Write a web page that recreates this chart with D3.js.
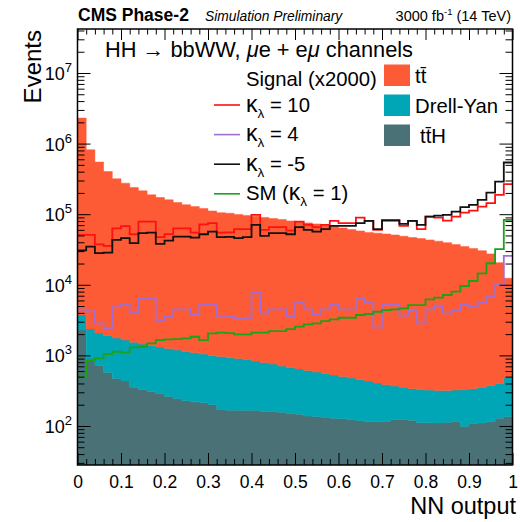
<!DOCTYPE html>
<html>
<head>
<meta charset="utf-8">
<script src="https://cdn.jsdelivr.net/npm/d3@7"></script>
<style>
  html, body { margin: 0; padding: 0; background: #fff; }
  svg { display: block; font-family: "Liberation Sans", Arial, Helvetica, sans-serif; }
</style>
</head>
<body>
<svg id="chart" width="520" height="522"></svg>
<script>
// NN output distribution, 50 bins on [0, 1]
const nBins = 50;
const binWidth = 1 / nBins;
const binLow = d3.range(nBins).map(i => i * binWidth);

// Stacked backgrounds (events per bin)
const ttbar = [2296000, 814600, 544900, 400100, 315200, 273400, 236500, 212600, 186600, 170700,
  158800, 144800, 134900, 126900, 119000, 110000, 104000, 102100, 98400, 95200,
  92300, 89300, 86300, 83600, 79600, 77200, 74700, 72200, 68700, 66600,
  63400, 60300, 57400, 54800, 53300, 52100, 50400, 48300, 46300, 44800,
  42900, 41100, 39200, 36800, 34400, 32200, 30100, 27000, 20200, 11900];

const drellYan = [1445, 1503, 1354, 1340, 1291, 1217, 1175, 1118, 1069, 1023,
  986, 944, 904, 869, 830, 799, 788, 763, 734, 707,
  663, 629, 593, 548, 520, 493, 471, 444, 419, 397,
  374, 354, 335, 318, 290, 268, 244, 230, 217, 216,
  211, 207, 204, 207, 228, 230, 245, 258, 269, 353];

const ttH = [2285, 857, 716, 570, 469, 433, 355, 327, 308, 289,
  262, 245, 228, 220, 213, 201, 173, 167, 167, 165,
  167, 162, 160, 157, 152, 147, 138, 136, 133, 129,
  127, 123, 119, 115, 115, 117, 123, 125, 121, 111,
  111, 110, 113, 115, 99, 108, 110, 115, 129, 136];

// Signal hypotheses, scaled x2000
const kl10 = [50800, 50800, 37300, 35500, 62900, 67600, 52000, 78500, 78500, 47200,
  52200, 62900, 62900, 54800, 71600, 74500, 54800, 55200, 61300, 61300,
  97700, 59900, 65400, 65400, 58500, 78500, 70500, 65400, 70500, 80300,
  74500, 74500, 89500, 80300, 59900, 83000, 83000, 68200, 80300, 61300,
  92500, 89500, 81100, 92500, 105400, 112500, 128200, 143200, 187800, 266500];

const kl4 = [4440, 4210, 2840, 2420, 4840, 5340, 4070, 6440, 6440, 3170,
  3570, 4490, 4490, 3730, 5340, 5340, 3490, 3530, 3350, 3350,
  7730, 3940, 4490, 4490, 3530, 5570, 4490, 3820, 4490, 5340,
  4490, 4490, 6440, 5660, 2490, 5170, 5170, 3650, 4390, 2840,
  4490, 5050, 3940, 4300, 5340, 4890, 5570, 6780, 9930, 25600];

const klm5 = [30700, 34700, 28000, 28500, 43200, 45700, 38800, 53800, 54800, 37900,
  42200, 48100, 48100, 46600, 52000, 56600, 47200, 47600, 45700, 47200,
  70500, 49200, 53800, 53800, 52000, 65400, 59900, 56600, 61300, 68200,
  68200, 68200, 74500, 80300, 61300, 81100, 81100, 72800, 80300, 70500,
  92500, 95500, 97700, 108900, 125600, 135500, 159600, 202400, 289800, 539500];

const smSignal = [497, 858, 906, 1043, 1125, 1104, 1298, 1324, 1480, 1648,
  1686, 1703, 1742, 1836, 1648, 2051, 2094, 2070, 1986, 1986,
  2094, 2094, 2210, 2210, 2360, 2547, 2754, 2844, 3064, 3243,
  3414, 3414, 3733, 3855, 4150, 4385, 4487, 4645, 5167, 5167,
  6224, 6561, 7164, 7980, 9615, 11320, 14550, 20180, 31900, 83000];

const xTicks = [0, 0.1, 0.2, 0.3, 0.4, 0.5, 0.6, 0.7, 0.8, 0.9, 1];
const xTickLabels = ["0", "0.1", "0.2", "0.3", "0.4", "0.5", "0.6", "0.7", "0.8", "0.9", "1"];
const yTickExponents = [2, 3, 4, 5, 6, 7];

const bkgNames = ["tt\u0304", "Drell-Yan", "tt\u0304H"];
const bkgColors = ["#fd5a36", "#00a6b5", "#4a7276"];
const sigLabels = ["= 10", "= 4", "= -5", "= 1"];
const sigColors = ["#ff1010", "#a26fd0", "#111111", "#1aa31a"];

// ---------------------------------------------------------------
const svg = d3.select("#chart");
const frameL = 77.5, frameR = 512.5, frameT = 29, frameB = 465;
const yMin = 28, yMax = 4.2e7;

const x = d3.scaleLinear().domain([0, 1]).range([frameL, frameR]);
const y = d3.scaleLog().domain([yMin, yMax]).range([frameB, frameT]).clamp(true);

svg.append("defs").append("clipPath").attr("id", "frameClip")
  .append("rect").attr("x", frameL).attr("y", frameT)
  .attr("width", frameR - frameL).attr("height", frameB - frameT);

const plot = svg.append("g").attr("clip-path", "url(#frameClip)");

// stacked backgrounds: ttH at the bottom, then Drell-Yan, then ttbar
const rows = binLow.map((b, i) => ({ tth: ttH[i], dy: drellYan[i], tt: ttbar[i] }));
const stacked = d3.stack().keys(["tth", "dy", "tt"])(rows);
const stackColors = { tth: bkgColors[2], dy: bkgColors[1], tt: bkgColors[0] };

const stepArea = d3.area()
  .x(d => x(d[0]))
  .y0(d => y(Math.max(d[1], yMin)))
  .y1(d => y(Math.max(d[2], yMin)));

stacked.forEach(series => {
  const pts = series.flatMap((d, i) => [[binLow[i], d[0], d[1]], [binLow[i] + binWidth, d[0], d[1]]]);
  plot.append("path").datum(pts)
    .attr("d", stepArea)
    .attr("fill", stackColors[series.key])
    .attr("stroke", stackColors[series.key])
    .attr("stroke-width", 0.5);
});

// signal outlines
const stepLine = d3.line().x(d => x(d[0])).y(d => y(Math.max(d[1], yMin)));
const signals = [kl10, kl4, klm5, smSignal];
signals.forEach((vals, k) => {
  const pts = vals.flatMap((v, i) => [[binLow[i], v], [binLow[i] + binWidth, v]]);
  plot.append("path").datum(pts)
    .attr("d", stepLine)
    .attr("fill", "none")
    .attr("stroke", sigColors[k])
    .attr("stroke-width", 1.8);
});

// ---------------- axes ----------------
function styleAxis(g) {
  g.select(".domain").remove();
  g.selectAll(".tick line").attr("stroke", "#000").attr("stroke-width", 1);
}

const xMinor = d3.range(0, 51).map(i => i / 50).filter(v => Math.abs(v * 10 - Math.round(v * 10)) > 1e-6);

svg.append("g").attr("transform", `translate(0,${frameB})`)
  .call(d3.axisBottom(x).tickValues(xTicks).tickSize(-12).tickPadding(11)
    .tickFormat((d, i) => xTickLabels[i]))
  .call(styleAxis)
  .call(g => g.selectAll(".tick text").attr("font-size", 17.5).attr("fill", "#000")
    .attr("font-family", "Liberation Sans, Arial, Helvetica, sans-serif"));
svg.append("g").attr("transform", `translate(0,${frameB})`)
  .call(d3.axisBottom(x).tickValues(xMinor).tickSize(-6).tickFormat(""))
  .call(styleAxis);
svg.append("g").attr("transform", `translate(0,${frameT})`)
  .call(d3.axisTop(x).tickValues(xTicks).tickSize(-11).tickFormat(""))
  .call(styleAxis);
svg.append("g").attr("transform", `translate(0,${frameT})`)
  .call(d3.axisTop(x).tickValues(xMinor).tickSize(-5.5).tickFormat(""))
  .call(styleAxis);

const yMajor = yTickExponents.map(e => Math.pow(10, e));
const yMinorVals = [];
for (let e = 1; e <= 7; e++) {
  for (let m = 2; m <= 9; m++) {
    const v = m * Math.pow(10, e);
    if (v > yMin && v < yMax) yMinorVals.push(v);
  }
}

svg.append("g").attr("transform", `translate(${frameL},0)`)
  .call(d3.axisLeft(y).tickValues(yMajor).tickSize(-13).tickFormat(""))
  .call(styleAxis);
svg.append("g").attr("transform", `translate(${frameL},0)`)
  .call(d3.axisLeft(y).tickValues(yMinorVals).tickSize(-7).tickFormat(""))
  .call(styleAxis);
svg.append("g").attr("transform", `translate(${frameR},0)`)
  .call(d3.axisRight(y).tickValues(yMajor).tickSize(-13).tickFormat(""))
  .call(styleAxis);
svg.append("g").attr("transform", `translate(${frameR},0)`)
  .call(d3.axisRight(y).tickValues(yMinorVals).tickSize(-7).tickFormat(""))
  .call(styleAxis);

// y tick labels: 10^n
yTickExponents.forEach(e => {
  const t = svg.append("text")
    .attr("x", 72).attr("y", y(Math.pow(10, e)) + 7)
    .attr("text-anchor", "end").attr("font-size", 18).attr("fill", "#000");
  t.append("tspan").text("10");
  t.append("tspan").attr("font-size", 13).attr("dy", -8).text(String(e));
});

// frame
svg.append("rect")
  .attr("x", frameL).attr("y", frameT)
  .attr("width", frameR - frameL).attr("height", frameB - frameT)
  .attr("fill", "none").attr("stroke", "#000").attr("stroke-width", 1.5);

// axis titles
svg.append("text")
  .attr("transform", `translate(41,${frameT + 1}) rotate(-90)`)
  .attr("text-anchor", "end").attr("font-size", 24).attr("fill", "#000")
  .text("Events");
svg.append("text")
  .attr("x", 516).attr("y", 513.5)
  .attr("text-anchor", "end").attr("font-size", 23.5).attr("fill", "#000")
  .text("NN output");

// header
svg.append("text").attr("x", 78).attr("y", 21)
  .attr("font-size", 17.5).attr("font-weight", "bold").text("CMS Phase-2");
svg.append("text").attr("x", 205).attr("y", 21)
  .attr("font-size", 13.8).attr("font-style", "italic").text("Simulation Preliminary");
const lumi = svg.append("text").attr("x", 511).attr("y", 21)
  .attr("text-anchor", "end").attr("font-size", 14.5);
lumi.append("tspan").text("3000 fb");
lumi.append("tspan").attr("font-size", 9.5).attr("dy", -6).text("-1");
lumi.append("tspan").attr("dy", 6).text(" (14 TeV)");

// channel title
const title = svg.append("text").attr("x", 105).attr("y", 57).attr("font-size", 21.8);
title.append("tspan").text("HH \u2192 bbWW, ");
title.append("tspan").attr("font-style", "italic").text("\u03bc");
title.append("tspan").text("e + e");
title.append("tspan").attr("font-style", "italic").text("\u03bc");
title.append("tspan").text(" channels");

// signal legend
svg.append("text").attr("x", 246).attr("y", 86).attr("font-size", 20.3).text("Signal (x2000)");
sigLabels.forEach((lab, k) => {
  const yy = 105 + k * 29.6;
  svg.append("line").attr("x1", 214).attr("x2", 240).attr("y1", yy).attr("y2", yy)
    .attr("stroke", sigColors[k]).attr("stroke-width", 1.6);
  const t = svg.append("text").attr("x", 246).attr("y", yy + 6.5).attr("font-size", 20.3);
  if (k === 3) t.append("tspan").text("SM (");
  t.append("tspan").attr("font-size", 23).text("\u03ba");
  t.append("tspan").attr("font-size", 13.5).attr("dy", 6).text("\u03bb");
  t.append("tspan").attr("dy", -6).text(" " + lab + (k === 3 ? ")" : ""));
});

// background legend
bkgNames.forEach((name, k) => {
  const yy = 64.5 + k * 30;
  svg.append("rect").attr("x", 384).attr("y", yy).attr("width", 26).attr("height", 21.5)
    .attr("fill", bkgColors[k]);
  svg.append("text").attr("x", k === 2 ? 420 : 415).attr("y", yy + 18.5)
    .attr("font-size", 20.3).text(name);
});
</script>
</body>
</html>
